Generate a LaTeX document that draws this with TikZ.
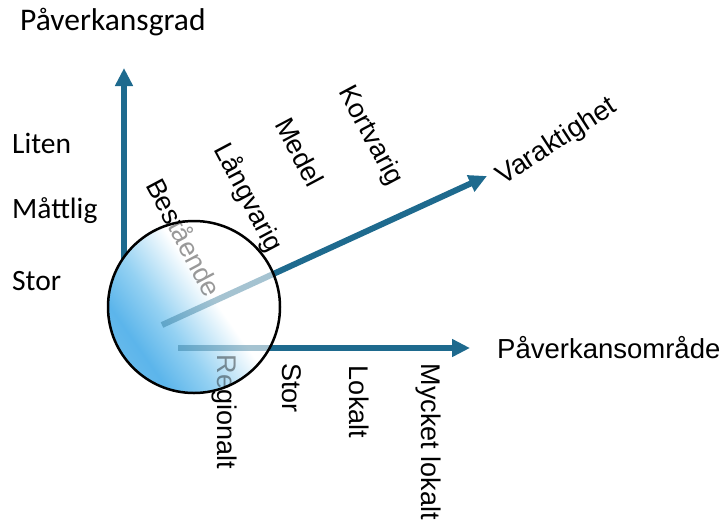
\documentclass[tikz,border=0pt]{standalone}
\usepackage{fontspec}
\setmainfont{Liberation Sans}
\newfontfamily\carlito{Carlito}
\usetikzlibrary{arrows.meta}
\definecolor{axisblue}{RGB}{30,106,142}
\pgfdeclarehorizontalshading{lens}{100bp}{rgb(0bp)=(0.58,0.80,0.93); rgb(30bp)=(0.36,0.71,0.92); rgb(41bp)=(0.58,0.82,0.95); rgb(56bp)=(1,1,1); rgb(100bp)=(1,1,1)}
\begin{document}
\begin{tikzpicture}[x=1pt,y=-1pt,
    axis/.style={draw=axisblue, line width=6pt, -{Triangle[length=18pt,width=17pt]}},
    lbl/.style={inner sep=0pt, font=\fontsize{27}{30}\selectfont},
    grad/.style={inner sep=0pt, anchor=west, font=\carlito\fontsize{29.5}{32}\selectfont},
    faded/.style={opacity=0.4}]
  \useasboundingbox (0,0) rectangle (726,531);
  % axes
  \coordinate (o) at (194,307);
  \coordinate (durstart) at (162,325);
  \coordinate (areastart) at (178,348);
  \coordinate (gradtip) at (124,68);
  \coordinate (durtip) at (487,176);
  \coordinate (areatip) at (470,348);
  \draw[axis] (124,307) -- (gradtip);
  \draw[axis] (durstart) -- (durtip);
  \draw[axis] (areastart) -- (areatip);

  % axis titles
  \node[grad, font=\carlito\fontsize{31.5}{34}\selectfont] (gradtitle) at (20,22) {Påverkansgrad};
  \node[lbl, rotate=33, font=\fontsize{27.5}{30}\selectfont] (durtitle) at (557,142) {Varaktighet};
  \node[lbl, anchor=west, font=\fontsize{27.5}{30}\selectfont] (areatitle) at (497,348) {Påverkansområde};

  % scale on the vertical axis
  \node[grad] (liten) at (12,143) {Liten};
  \node[grad] (mattlig) at (12,211) {Måttlig};
  \node[grad] (gradstor) at (12,281) {Stor};

  % scale along the duration axis
  \node[lbl, rotate=-62] (best) at (185,237) {Bestående};
  \node[lbl, rotate=-62] (lang) at (248,198) {Långvarig};
  \node[lbl, rotate=-62] (medel) at (300,152) {Medel};
  \node[lbl, rotate=-62] (kort) at (370,136) {Kortvarig};

  % scale along the area axis
  \node[lbl, rotate=-90] (region) at (224,412) {Regionalt};
  \node[lbl, rotate=-90] (areastor) at (292,388) {Stor};
  \node[lbl, rotate=-90] (lokalt) at (359,402) {Lokalt};
  \node[lbl, rotate=-90] (mycket) at (428,442) {Mycket lokalt};

  % the lens
  \node[circle, inner sep=0pt, minimum size=172pt, shade, shading=lens,
        shading angle=35] (lens) at (o) {};
  \begin{scope}
    \clip (o) circle (85pt);
    \draw[axisblue, line width=6pt, faded] (durstart) -- (durtip);
    \draw[axisblue, line width=6pt, faded] (areastart) -- (areatip);
    \node[lbl, rotate=-62, faded] at (best) {Bestående};
    \node[lbl, rotate=-90, faded] at (region) {Regionalt};
  \end{scope}
  \draw[line width=2.5pt] (o) circle (86pt);
\end{tikzpicture}
\end{document}
